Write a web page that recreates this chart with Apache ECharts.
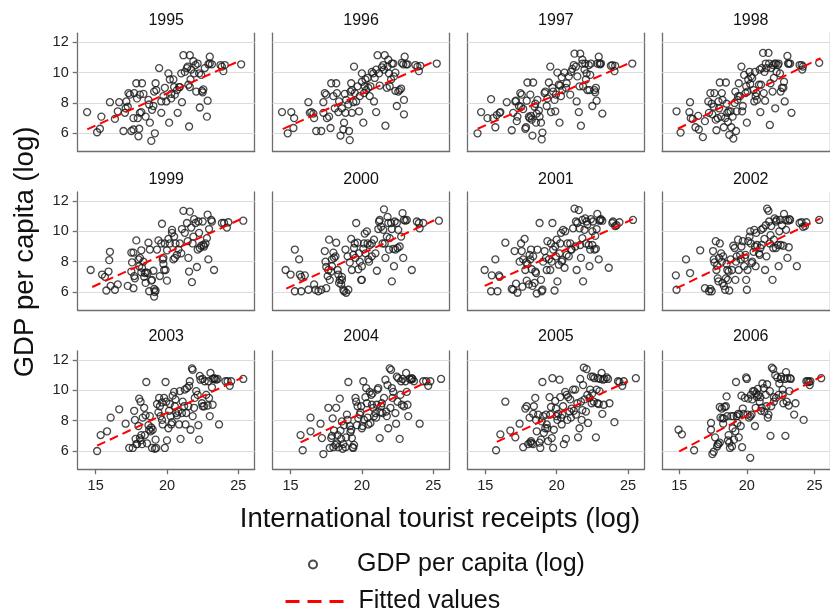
<!DOCTYPE html>
<html><head><meta charset="utf-8">
<script src="https://cdn.jsdelivr.net/npm/echarts@6/dist/echarts.min.js"></script>
<style>html,body{margin:0;padding:0;background:#fff}#c{width:830px;height:609px}</style>
</head><body><div id="c"></div>
<script>
const years = ['1995','1996','1997','1998','1999','2000','2001','2002','2003','2004','2005','2006'];
const xTicks = [15, 20, 25];
const yTicks = [6, 8, 10, 12];

const pts1995 = [[14.4,7.4],[15.1,6.07],[15.3,6.3],[15.4,7.1],[16.0,8.05],[16.35,6.95],[16.55,7.45],[16.65,8.05],[16.95,6.15],[17.1,7.65],[17.15,8.1],[17.05,7.35],[17.25,7.75],[17.3,8.65],[17.4,8.55],[17.5,6.15],[17.65,6.25],[17.65,7.0],[17.7,8.65],[17.85,9.3],[17.9,8.3],[17.95,7.0],[18.0,5.8],[18.05,6.3],[18.1,8.55],[18.1,7.35],[18.2,7.4],[18.25,9.3],[18.35,8.6],[18.5,7.1],[18.7,8.2],[18.75,7.9],[18.8,6.7],[18.9,5.5],[18.95,7.55],[19.05,7.8],[19.1,8.75],[19.15,6.0],[19.2,9.3],[19.25,8.85],[19.45,10.3],[19.6,7.35],[19.6,8.1],[19.75,8.45],[19.85,9.0],[19.95,8.1],[20.1,9.95],[20.15,6.7],[20.2,9.55],[20.3,8.3],[20.3,8.6],[20.45,9.55],[20.5,9.05],[20.55,8.55],[20.7,8.85],[20.75,7.35],[20.85,9.05],[20.9,9.05],[21.0,9.95],[21.05,8.05],[21.15,11.15],[21.25,10.05],[21.4,10.3],[21.45,10.4],[21.5,9.2],[21.55,6.45],[21.6,9.05],[21.6,11.15],[21.65,9.55],[21.7,10.2],[21.85,10.75],[21.9,9.95],[22.0,10.5],[22.05,8.75],[22.15,10.6],[22.25,9.95],[22.3,7.7],[22.4,9.85],[22.45,8.8],[22.5,8.7],[22.55,8.9],[22.65,10.3],[22.8,7.1],[22.85,8.15],[22.9,10.55],[23.0,11.05],[23.0,10.6],[23.15,10.55],[23.75,10.5],[23.85,10.4],[23.95,10.1],[24.05,10.5],[25.2,10.55]];
const pts1996 = [[14.4,7.4],[15.05,7.4],[15.25,7.0],[15.2,6.35],[14.8,6.0],[16.25,8.05],[16.35,7.35],[16.45,7.4],[16.6,7.3],[16.65,7.0],[16.8,6.15],[17.15,6.15],[17.3,7.35],[17.3,8.05],[17.4,8.65],[17.5,8.55],[17.55,7.0],[17.7,7.1],[17.8,6.35],[17.85,9.3],[18.0,8.45],[18.1,7.65],[18.2,9.3],[18.25,8.65],[18.35,7.4],[18.4,8.1],[18.5,5.85],[18.6,7.65],[18.7,6.25],[18.75,6.7],[18.8,8.6],[18.85,7.35],[18.9,8.2],[19.05,7.9],[19.1,6.15],[19.15,5.55],[19.2,8.75],[19.25,9.3],[19.3,8.85],[19.3,7.35],[19.4,8.05],[19.45,10.4],[19.5,8.65],[19.6,8.1],[19.7,9.1],[19.8,7.45],[19.85,8.45],[20.0,9.4],[20.0,9.95],[20.1,6.7],[20.15,8.65],[20.2,9.1],[20.25,9.55],[20.3,8.85],[20.4,9.65],[20.45,9.0],[20.55,8.45],[20.6,9.1],[20.7,10.05],[20.8,9.95],[20.85,8.1],[20.9,9.65],[21.0,7.4],[21.0,10.2],[21.1,11.15],[21.2,9.95],[21.25,9.15],[21.4,10.35],[21.5,10.5],[21.55,10.2],[21.6,11.15],[21.65,6.5],[21.75,9.0],[21.8,10.4],[21.85,10.85],[21.9,9.95],[21.95,9.1],[22.05,9.55],[22.1,10.6],[22.2,10.6],[22.25,9.75],[22.35,8.8],[22.35,10.0],[22.45,7.8],[22.55,8.75],[22.65,8.85],[22.75,8.95],[22.8,10.65],[22.9,10.55],[22.95,8.2],[22.95,7.25],[23.0,11.05],[23.1,10.55],[23.2,10.55],[23.75,10.5],[23.9,10.4],[24.0,10.1],[24.1,10.45],[25.25,10.6]];
const pts1997 = [[14.45,6.0],[14.7,7.4],[15.15,7.0],[15.55,7.0],[15.7,6.4],[15.8,7.2],[16.0,7.35],[16.05,7.4],[15.4,8.25],[16.5,8.05],[16.85,6.2],[16.95,7.35],[17.1,8.1],[17.15,8.15],[17.2,6.8],[17.25,7.1],[17.35,7.8],[17.45,8.65],[17.5,7.75],[17.55,8.55],[17.65,7.6],[17.8,6.3],[17.85,6.4],[17.9,8.15],[17.95,9.35],[18.05,7.1],[18.1,7.0],[18.15,8.55],[18.2,7.15],[18.25,6.9],[18.3,5.85],[18.35,9.35],[18.45,7.75],[18.5,7.95],[18.55,6.7],[18.6,7.3],[18.65,8.2],[18.75,7.5],[18.8,7.1],[18.9,6.7],[18.95,5.6],[19.0,6.05],[19.15,8.65],[19.2,8.75],[19.3,7.8],[19.35,8.3],[19.45,9.35],[19.55,10.4],[19.6,7.4],[19.7,9.0],[19.75,8.75],[19.85,8.2],[19.9,7.45],[19.95,8.55],[20.05,10.0],[20.15,9.2],[20.2,6.7],[20.25,9.15],[20.3,8.45],[20.35,9.7],[20.4,8.85],[20.55,10.0],[20.65,9.0],[20.7,9.3],[20.85,9.75],[20.95,8.55],[21.0,10.05],[21.1,10.25],[21.2,10.5],[21.25,11.25],[21.35,10.4],[21.4,8.1],[21.45,9.75],[21.55,7.4],[21.6,9.1],[21.65,11.25],[21.7,6.5],[21.8,10.6],[21.8,10.85],[21.85,9.1],[21.95,10.2],[22.0,10.6],[22.05,9.55],[22.1,9.95],[22.15,8.85],[22.25,10.5],[22.3,8.85],[22.35,9.85],[22.4,10.6],[22.5,7.8],[22.65,8.85],[22.7,8.7],[22.75,9.0],[22.8,8.15],[22.85,10.6],[22.95,11.05],[23.0,10.6],[23.05,10.55],[23.1,10.6],[23.2,7.3],[23.8,10.45],[23.9,10.5],[24.05,10.1],[24.1,10.45],[25.3,10.6]];
const pts1998 = [[14.8,7.45],[15.1,6.05],[15.75,7.4],[15.8,8.05],[15.85,7.0],[16.0,6.95],[16.2,6.4],[16.4,7.15],[16.45,6.25],[16.75,5.75],[16.9,6.8],[17.15,8.1],[17.2,7.35],[17.3,8.65],[17.4,7.95],[17.45,7.25],[17.55,7.75],[17.6,8.65],[17.7,6.9],[17.75,6.2],[17.85,7.0],[17.9,8.1],[17.95,7.65],[18.0,9.35],[18.1,7.1],[18.15,8.65],[18.2,8.2],[18.3,6.4],[18.4,7.0],[18.45,9.35],[18.5,7.95],[18.55,7.35],[18.6,6.75],[18.65,7.45],[18.7,5.9],[18.8,7.45],[18.85,6.4],[18.95,7.1],[19.0,5.65],[19.1,8.0],[19.15,8.75],[19.2,6.15],[19.25,7.45],[19.3,8.2],[19.35,8.45],[19.4,9.3],[19.5,8.45],[19.6,10.4],[19.65,7.45],[19.7,7.8],[19.8,9.85],[19.9,8.65],[19.95,9.1],[20.0,6.7],[20.05,8.75],[20.1,9.55],[20.2,10.05],[20.25,9.25],[20.3,9.75],[20.4,9.65],[20.5,8.85],[20.55,8.1],[20.6,10.05],[20.65,8.45],[20.7,8.65],[20.75,8.2],[20.9,9.2],[20.95,10.2],[21.0,7.4],[21.05,9.2],[21.1,10.3],[21.2,11.3],[21.25,8.65],[21.3,10.05],[21.35,8.15],[21.4,10.6],[21.45,10.3],[21.6,11.3],[21.65,10.6],[21.7,6.55],[21.75,9.3],[21.8,10.3],[21.9,8.75],[21.95,10.5],[22.0,9.65],[22.05,10.6],[22.1,7.65],[22.15,10.6],[22.2,10.05],[22.3,10.5],[22.35,10.6],[22.45,9.95],[22.5,8.75],[22.6,9.0],[22.7,9.0],[22.75,9.4],[22.8,8.1],[23.0,11.1],[23.05,10.6],[23.1,10.6],[23.2,10.6],[23.3,7.35],[23.9,10.5],[24.05,10.5],[24.1,10.2],[24.15,10.4],[25.35,10.65]];
const pts1999 = [[14.65,7.45],[15.45,7.15],[15.65,7.0],[15.75,6.1],[15.9,7.35],[15.95,8.1],[16.0,8.65],[16.05,6.4],[16.35,6.15],[16.55,6.5],[17.25,6.4],[17.5,8.6],[17.5,7.35],[17.55,7.95],[17.65,6.25],[17.65,8.6],[17.7,7.05],[17.75,6.9],[17.85,9.4],[18.0,8.15],[18.05,7.7],[18.1,8.25],[18.2,8.75],[18.2,7.3],[18.25,7.6],[18.35,8.0],[18.4,7.0],[18.45,7.25],[18.5,6.6],[18.55,7.3],[18.65,7.25],[18.7,9.25],[18.75,6.05],[18.8,8.8],[18.9,6.75],[18.95,6.8],[19.05,7.4],[19.1,6.2],[19.15,6.0],[19.1,5.7],[19.2,6.1],[19.3,8.8],[19.4,9.4],[19.5,7.05],[19.6,9.2],[19.65,10.5],[19.7,8.15],[19.75,7.85],[19.75,8.25],[19.8,7.45],[19.85,9.2],[19.9,7.45],[20.0,6.75],[20.0,8.75],[20.1,9.5],[20.2,9.2],[20.35,10.1],[20.35,9.9],[20.45,8.15],[20.5,9.65],[20.55,8.25],[20.6,9.2],[20.7,8.45],[20.8,8.8],[20.9,9.2],[21.0,8.55],[21.05,10.15],[21.15,11.35],[21.25,9.9],[21.4,10.55],[21.45,9.35],[21.5,8.25],[21.55,7.35],[21.6,11.3],[21.7,10.25],[21.75,6.65],[21.8,9.2],[21.85,9.65],[21.9,10.8],[22.0,10.55],[22.1,7.65],[22.15,8.8],[22.2,10.65],[22.25,9.9],[22.3,8.9],[22.4,9.05],[22.5,10.65],[22.55,9.1],[22.6,9.0],[22.7,9.2],[22.8,9.55],[22.85,11.1],[22.9,8.15],[22.95,10.15],[23.1,10.75],[23.15,10.65],[23.3,7.45],[23.85,10.55],[24.0,10.55],[24.2,10.25],[24.3,10.6],[25.35,10.7]];
const pts2000 = [[14.65,7.45],[15.0,7.15],[15.3,8.8],[15.6,8.15],[15.65,7.15],[15.75,7.0],[16.0,7.1],[15.3,6.05],[15.75,6.05],[16.25,6.15],[16.65,6.5],[16.75,6.15],[16.95,6.05],[17.15,6.15],[17.4,8.7],[17.45,8.0],[17.5,7.65],[17.5,6.25],[17.6,7.05],[17.65,7.45],[17.7,9.45],[17.75,6.8],[17.85,7.35],[17.9,8.15],[17.9,7.7],[18.0,8.6],[18.05,8.25],[18.15,8.35],[18.2,9.25],[18.3,7.45],[18.35,7.15],[18.4,6.6],[18.45,6.8],[18.55,6.5],[18.6,7.0],[18.6,6.8],[18.7,6.15],[18.75,6.05],[18.85,8.8],[18.9,5.95],[19.0,8.35],[19.05,6.15],[19.15,7.95],[19.25,9.5],[19.3,7.45],[19.4,8.45],[19.45,8.9],[19.5,9.2],[19.55,8.25],[19.6,10.55],[19.7,9.25],[19.75,7.5],[19.8,8.55],[19.85,8.0],[19.95,6.8],[20.0,7.7],[20.0,6.8],[20.1,8.85],[20.15,9.2],[20.2,9.85],[20.25,8.55],[20.35,10.0],[20.4,9.2],[20.45,8.15],[20.5,8.0],[20.55,9.1],[20.7,8.35],[20.7,9.2],[20.85,9.45],[20.95,8.55],[21.05,7.4],[21.15,10.15],[21.2,10.65],[21.25,10.75],[21.35,10.3],[21.45,9.2],[21.5,10.1],[21.55,11.45],[21.6,9.2],[21.65,8.25],[21.75,9.65],[21.8,10.95],[21.85,10.55],[21.9,8.8],[21.95,9.55],[22.05,10.55],[22.1,6.7],[22.1,10.15],[22.2,8.85],[22.25,7.7],[22.3,10.65],[22.35,8.8],[22.45,10.55],[22.5,8.9],[22.55,10.1],[22.65,9.0],[22.75,9.65],[22.85,11.2],[22.9,8.25],[22.95,10.75],[23.05,10.7],[23.15,10.75],[23.5,7.45],[23.85,10.65],[24.0,10.55],[24.05,10.2],[24.3,10.55],[25.4,10.7]];
const pts2001 = [[14.95,7.45],[15.4,6.05],[15.45,7.1],[15.7,8.15],[15.85,6.05],[15.95,7.1],[16.0,7.0],[16.4,9.25],[16.85,6.2],[16.95,6.15],[17.05,8.7],[17.15,6.55],[17.25,5.95],[17.4,8.0],[17.5,9.2],[17.55,8.7],[17.6,6.35],[17.65,8.15],[17.75,9.5],[17.8,7.45],[17.85,7.95],[17.9,6.75],[17.95,7.85],[18.05,6.5],[18.1,8.45],[18.15,8.15],[18.2,8.8],[18.25,7.5],[18.3,6.4],[18.35,8.35],[18.45,6.6],[18.5,7.35],[18.55,7.25],[18.6,5.9],[18.65,8.8],[18.8,10.55],[18.9,6.8],[18.95,6.05],[19.0,6.15],[19.05,8.0],[19.15,8.7],[19.25,8.25],[19.3,7.45],[19.35,9.35],[19.45,8.15],[19.55,7.45],[19.6,9.2],[19.65,8.0],[19.7,10.55],[19.75,8.8],[19.85,6.1],[19.9,9.0],[19.95,8.35],[20.0,9.45],[20.05,6.7],[20.15,7.8],[20.2,8.55],[20.25,9.2],[20.3,9.9],[20.35,8.0],[20.4,8.1],[20.45,10.1],[20.55,7.6],[20.6,10.0],[20.7,8.45],[20.75,9.2],[20.85,8.35],[20.95,9.2],[21.0,8.8],[21.05,8.8],[21.15,10.2],[21.25,11.5],[21.3,9.0],[21.35,10.65],[21.4,7.45],[21.45,10.55],[21.55,11.4],[21.6,10.2],[21.65,9.1],[21.7,8.25],[21.8,9.55],[21.8,10.75],[21.85,6.7],[21.95,10.1],[22.0,10.85],[22.05,9.2],[22.1,10.65],[22.15,10.45],[22.25,9.1],[22.3,7.7],[22.35,8.8],[22.4,10.8],[22.5,9.1],[22.5,10.0],[22.55,10.65],[22.65,8.8],[22.7,9.7],[22.75,8.85],[22.8,10.15],[22.85,11.15],[22.95,8.15],[23.0,10.7],[23.05,10.75],[23.1,10.8],[23.2,10.7],[23.65,7.6],[23.9,10.55],[23.95,10.65],[24.1,10.35],[24.2,10.4],[24.4,10.6],[25.35,10.75]];
const pts2002 = [[14.75,7.1],[14.8,6.15],[15.5,8.15],[15.8,7.25],[16.55,8.75],[16.9,6.25],[17.2,6.05],[17.3,6.2],[17.4,6.05],[17.5,8.7],[17.55,8.15],[17.6,7.95],[17.7,9.35],[17.75,7.45],[17.8,7.75],[17.85,6.9],[17.9,6.7],[17.95,8.25],[18.0,9.2],[18.1,8.55],[18.15,8.0],[18.2,6.6],[18.25,8.35],[18.3,6.4],[18.4,6.15],[18.45,6.9],[18.5,7.85],[18.55,7.45],[18.6,6.8],[18.65,7.35],[18.7,6.1],[18.8,8.15],[18.9,7.45],[19.0,9.05],[19.1,8.9],[19.15,6.8],[19.2,8.0],[19.25,8.35],[19.35,9.45],[19.4,7.45],[19.5,8.45],[19.55,8.15],[19.6,9.0],[19.7,9.35],[19.8,7.7],[19.85,8.25],[19.9,8.45],[19.95,6.8],[20.0,6.15],[20.05,7.45],[20.1,9.35],[20.2,9.65],[20.25,10.0],[20.3,9.2],[20.35,7.9],[20.4,8.0],[20.5,8.65],[20.55,10.1],[20.6,9.0],[20.65,7.7],[20.7,9.9],[20.75,9.1],[20.9,8.55],[20.95,8.45],[21.0,8.9],[21.05,10.1],[21.1,9.1],[21.2,10.2],[21.3,9.5],[21.35,7.45],[21.4,10.4],[21.45,8.35],[21.5,11.5],[21.6,11.35],[21.65,10.65],[21.7,9.2],[21.75,9.75],[21.8,10.35],[21.9,6.8],[21.95,8.9],[22.0,9.45],[22.05,10.85],[22.15,8.9],[22.15,10.65],[22.2,10.75],[22.3,9.1],[22.35,7.7],[22.4,10.0],[22.45,10.75],[22.5,9.1],[22.6,10.4],[22.7,9.05],[22.75,11.15],[22.85,10.75],[22.9,10.1],[23.0,8.25],[23.05,10.7],[23.1,8.95],[23.15,10.8],[23.2,10.75],[23.7,7.7],[23.9,10.55],[24.05,10.6],[24.15,10.3],[24.3,10.35],[24.4,10.6],[25.35,10.75]];
const pts2003 = [[15.1,6.0],[15.35,7.05],[15.8,7.3],[16.05,8.2],[16.65,8.75],[17.1,7.8],[17.35,6.2],[17.6,6.2],[17.7,8.65],[17.75,8.05],[17.8,6.8],[17.85,6.45],[17.9,6.45],[18.0,7.65],[18.05,9.45],[18.1,6.85],[18.15,9.25],[18.15,6.7],[18.2,7.05],[18.25,6.45],[18.3,8.2],[18.4,8.85],[18.45,7.05],[18.5,8.35],[18.55,10.55],[18.6,6.5],[18.7,7.7],[18.75,7.4],[18.8,8.3],[18.85,7.3],[18.9,7.55],[18.95,6.2],[19.0,7.4],[19.15,6.15],[19.2,6.75],[19.25,6.2],[19.3,9.1],[19.4,8.55],[19.45,9.5],[19.5,8.95],[19.55,8.3],[19.65,9.2],[19.65,8.05],[19.7,7.75],[19.8,9.5],[19.85,6.2],[19.9,10.55],[19.95,9.25],[20.0,6.7],[20.1,7.5],[20.15,8.65],[20.2,9.1],[20.25,8.3],[20.3,7.75],[20.35,7.9],[20.4,9.65],[20.5,9.9],[20.55,8.95],[20.6,9.4],[20.65,8.5],[20.7,8.35],[20.8,8.6],[20.85,7.75],[20.9,9.95],[20.95,6.8],[21.05,8.5],[21.1,9.25],[21.2,8.95],[21.25,10.05],[21.3,7.75],[21.35,8.5],[21.4,10.15],[21.5,8.95],[21.55,10.3],[21.6,10.6],[21.65,7.4],[21.75,11.45],[21.8,11.35],[21.8,8.3],[21.9,8.85],[21.95,9.5],[22.05,9.95],[22.15,9.7],[22.2,7.7],[22.25,6.75],[22.3,10.95],[22.35,10.7],[22.45,9.15],[22.5,8.95],[22.5,10.75],[22.6,8.95],[22.65,10.6],[22.75,9.7],[22.85,9.0],[22.9,10.6],[22.95,9.5],[23.0,8.3],[23.05,11.15],[23.15,10.2],[23.2,9.05],[23.2,10.75],[23.3,10.8],[23.35,10.75],[23.45,10.7],[23.55,10.75],[23.65,7.75],[24.1,10.6],[24.25,10.6],[24.4,10.3],[24.5,10.6],[25.35,10.75]];
const pts2004 = [[15.7,7.05],[15.85,6.05],[16.4,7.3],[16.4,8.2],[17.1,7.8],[17.3,5.8],[17.2,6.85],[17.65,8.85],[17.75,6.2],[17.85,6.85],[17.9,7.0],[17.95,8.15],[18.0,6.25],[18.05,7.35],[18.15,6.4],[18.2,8.85],[18.25,6.5],[18.3,7.05],[18.35,6.25],[18.45,9.45],[18.5,7.35],[18.55,6.8],[18.6,7.95],[18.65,6.15],[18.7,6.45],[18.75,7.7],[18.85,6.25],[18.9,6.9],[18.95,8.4],[19.0,8.05],[19.05,10.55],[19.15,7.65],[19.2,7.25],[19.25,7.4],[19.3,6.85],[19.35,6.25],[19.4,6.2],[19.45,6.4],[19.55,9.5],[19.6,9.25],[19.65,7.7],[19.7,8.95],[19.75,8.15],[19.85,8.4],[19.9,8.55],[19.95,8.95],[20.0,7.5],[20.05,7.65],[20.1,10.6],[20.15,8.05],[20.25,9.55],[20.3,10.15],[20.35,9.15],[20.4,8.2],[20.45,7.75],[20.55,9.9],[20.6,7.85],[20.65,9.7],[20.7,9.05],[20.75,9.8],[20.8,8.85],[20.85,8.3],[20.95,8.5],[21.0,8.2],[21.05,9.05],[21.1,10.05],[21.15,10.15],[21.25,6.85],[21.3,8.55],[21.35,8.95],[21.4,9.15],[21.45,8.5],[21.55,9.5],[21.65,10.7],[21.7,8.6],[21.75,8.3],[21.8,10.35],[21.85,7.5],[21.95,11.45],[22.0,8.85],[22.05,11.35],[22.1,10.15],[22.15,9.5],[22.2,9.9],[22.35,8.5],[22.4,7.8],[22.45,10.9],[22.5,9.25],[22.55,10.8],[22.65,6.8],[22.7,9.7],[22.75,10.6],[22.8,9.05],[22.85,10.75],[22.95,8.95],[23.05,10.6],[23.1,11.15],[23.15,9.9],[23.2,9.05],[23.25,8.3],[23.35,10.75],[23.45,10.7],[23.5,10.8],[23.55,10.75],[23.65,10.6],[24.05,7.8],[24.3,10.6],[24.5,10.6],[24.65,10.3],[24.8,10.6],[25.55,10.75]];
const pts2005 = [[15.75,6.05],[16.05,7.1],[16.4,9.25],[16.75,7.35],[17.1,6.9],[17.4,7.8],[17.65,6.25],[17.8,8.8],[17.9,8.95],[18.0,6.45],[18.1,8.2],[18.15,6.55],[18.2,6.65],[18.25,6.5],[18.35,6.45],[18.35,8.45],[18.4,8.95],[18.5,9.5],[18.55,8.05],[18.6,7.3],[18.7,8.4],[18.8,6.55],[18.85,6.2],[18.9,6.75],[18.95,7.95],[19.0,10.55],[19.05,8.3],[19.1,7.2],[19.2,7.5],[19.25,8.4],[19.3,7.75],[19.35,7.5],[19.4,6.65],[19.5,9.55],[19.55,8.4],[19.6,8.9],[19.65,6.85],[19.7,10.8],[19.75,6.2],[19.8,7.4],[19.9,9.3],[19.95,8.8],[20.0,8.3],[20.05,8.05],[20.1,8.45],[20.2,10.7],[20.25,9.55],[20.3,8.2],[20.35,7.75],[20.4,8.4],[20.45,8.95],[20.5,6.45],[20.6,9.9],[20.65,6.8],[20.7,9.7],[20.75,8.05],[20.8,9.55],[20.9,8.6],[20.95,9.4],[21.0,8.2],[21.05,8.8],[21.15,10.05],[21.2,8.65],[21.3,10.05],[21.35,8.4],[21.45,9.15],[21.5,6.9],[21.6,7.5],[21.65,10.75],[21.7,9.25],[21.75,8.05],[21.8,8.7],[21.85,10.35],[21.9,11.5],[21.95,9.4],[22.05,8.6],[22.1,11.4],[22.15,9.7],[22.2,7.85],[22.3,9.5],[22.35,10.05],[22.4,10.9],[22.45,9.15],[22.5,9.8],[22.55,10.9],[22.6,9.25],[22.65,10.8],[22.75,6.9],[22.8,10.05],[22.85,9.15],[22.9,10.8],[22.95,9.1],[23.0,9.95],[23.05,10.75],[23.15,11.15],[23.2,8.45],[23.25,10.7],[23.3,9.05],[23.35,10.75],[23.5,10.85],[23.6,10.75],[23.7,9.15],[24.05,7.9],[24.3,10.6],[24.4,10.55],[24.6,10.3],[24.7,10.6],[25.55,10.8]];
const pts2006 = [[14.95,7.4],[15.2,7.1],[16.1,6.05],[17.35,7.85],[17.35,7.4],[17.45,5.8],[17.55,5.95],[17.65,6.9],[17.8,6.3],[17.85,6.45],[17.9,6.45],[18.0,6.55],[18.0,8.9],[18.05,8.2],[18.15,8.8],[18.2,8.15],[18.25,7.8],[18.3,8.15],[18.35,8.9],[18.45,8.95],[18.5,9.6],[18.55,8.3],[18.6,6.7],[18.65,7.05],[18.7,6.55],[18.75,6.2],[18.85,8.3],[18.9,6.3],[18.95,7.5],[19.0,8.3],[19.05,6.75],[19.15,7.3],[19.2,10.55],[19.25,8.3],[19.3,7.85],[19.35,8.45],[19.4,6.9],[19.45,8.4],[19.55,7.65],[19.6,9.65],[19.65,6.25],[19.7,8.8],[19.75,8.45],[19.85,9.5],[19.95,10.85],[20.0,10.75],[20.05,8.4],[20.1,9.45],[20.15,8.2],[20.25,5.55],[20.25,8.3],[20.3,9.7],[20.35,8.4],[20.4,9.4],[20.45,9.95],[20.55,9.95],[20.6,7.65],[20.65,8.85],[20.7,9.8],[20.75,9.55],[20.8,10.1],[20.85,9.7],[20.95,9.25],[21.0,9.55],[21.05,8.65],[21.1,8.85],[21.15,10.45],[21.25,10.15],[21.3,8.6],[21.4,9.7],[21.45,8.95],[21.5,10.4],[21.55,8.2],[21.6,8.4],[21.7,9.95],[21.75,7.0],[21.8,8.95],[21.85,11.5],[21.95,11.4],[22.0,9.25],[22.0,9.55],[22.1,11.0],[22.15,9.5],[22.25,10.85],[22.35,9.7],[22.4,10.45],[22.5,10.75],[22.55,10.9],[22.65,9.7],[22.65,10.05],[22.7,9.15],[22.8,10.75],[22.85,7.0],[22.9,11.2],[22.95,9.25],[23.0,10.8],[23.1,9.0],[23.15,9.95],[23.2,10.8],[23.25,10.75],[23.5,8.4],[23.6,9.15],[24.2,8.05],[24.4,10.6],[24.5,10.6],[24.6,10.55],[24.65,10.35],[24.7,10.6],[25.5,10.8]];

const fit1995 = [[14.41,6.26],[25.07,10.77]];
const fit1996 = [[14.45,6.28],[25.1,10.75]];
const fit1997 = [[14.46,6.3],[25.2,10.67]];
const fit1998 = [[14.9,6.3],[25.45,10.95]];
const fit1999 = [[14.76,6.33],[25.35,10.88]];
const fit2000 = [[14.7,6.22],[25.35,10.85]];
const fit2001 = [[14.95,6.4],[25.35,10.8]];
const fit2002 = [[14.8,6.25],[25.45,10.85]];
const fit2003 = [[15.1,6.35],[25.3,10.85]];
const fit2004 = [[15.7,6.57],[24.8,10.66]];
const fit2005 = [[15.8,6.6],[25.0,10.6]];
const fit2006 = [[15.0,5.97],[25.6,10.95]];

const ptsByYear = [pts1995,pts1996,pts1997,pts1998,pts1999,pts2000,pts2001,pts2002,pts2003,pts2004,pts2005,pts2006];
const fitByYear = [fit1995,fit1996,fit1997,fit1998,fit1999,fit2000,fit2001,fit2002,fit2003,fit2004,fit2005,fit2006];

const FONT = '"Liberation Sans", Arial, Helvetica, sans-serif';
const colLeft = [77.7, 272.6, 467.4, 662.2];
const rowTop = [33.2, 191.9, 350.9];
const titleY = [21, 180, 337];
const W = 177, H = 118.3;
const frame = {color: '#6e6e6e', width: 1.3};
const RED = '#ff0000';

const grids = [], xAxes = [], yAxes = [], series = [], graphics = [];
years.forEach((yr, i) => {
  const r = Math.floor(i / 4), c = i % 4;
  const isBottom = r === 2, isLeft = c === 0;
  grids.push({left: colLeft[c], top: rowTop[r], width: W, height: H});
  xAxes.push({type: 'value', gridIndex: i, min: 13.74, max: 26.15,
    axisLine: {show: true, onZero: false, lineStyle: frame},
    axisTick: {show: isBottom, length: 5, customValues: xTicks, lineStyle: frame},
    axisLabel: {show: isBottom, customValues: xTicks, margin: 9, fontSize: 14.5, color: '#222', fontFamily: FONT},
    splitLine: {show: false}});
  yAxes.push({type: 'value', gridIndex: i, min: 4.8, max: 12.6, position: 'left',
    axisLine: {show: true, onZero: false, lineStyle: frame},
    axisTick: {show: isLeft, length: 5, customValues: yTicks, lineStyle: frame},
    axisLabel: {show: isLeft, customValues: yTicks, margin: 9, fontSize: 14.5, color: '#222', fontFamily: FONT},
    splitLine: {show: false}});
  yAxes.push({type: 'value', gridIndex: i, min: 4.8, max: 12.6, position: 'right',
    axisLine: {show: true, onZero: false, lineStyle: frame},
    axisTick: {show: false}, axisLabel: {show: false}, splitLine: {show: false}});
  series.push({type: 'line', name: 'gridlines', xAxisIndex: i, yAxisIndex: 2 * i, data: [], silent: true, z: 1,
    markLine: {silent: true, z: 1, symbol: ['none', 'none'], label: {show: false},
      lineStyle: {color: '#dcdcdc', type: 'solid', width: 1}, emphasis: {disabled: true},
      data: yTicks.map(v => ({yAxis: v}))}});
  series.push({type: 'scatter', name: 'GDP per capita (log)', xAxisIndex: i, yAxisIndex: 2 * i,
    data: ptsByYear[i], symbol: 'circle', symbolSize: 7, z: 2,
    itemStyle: {color: 'rgba(255,255,255,0)', borderColor: '#1a1a1a', borderWidth: 1.3}});
  series.push({type: 'line', name: 'Fitted values', xAxisIndex: i, yAxisIndex: 2 * i,
    data: fitByYear[i], symbol: 'none', z: 3, itemStyle: {color: RED},
    lineStyle: {color: RED, width: 2, type: [9, 5]}});
  graphics.push({type: 'text', x: colLeft[c] + W / 2, y: titleY[r],
    style: {text: yr, font: '16px ' + FONT, fill: '#111', textAlign: 'center', textVerticalAlign: 'middle'}});
});
graphics.push({type: 'text', x: 25, y: 252, rotation: Math.PI / 2,
  style: {text: 'GDP per capita (log)', font: '27.5px ' + FONT, fill: '#111', textAlign: 'center', textVerticalAlign: 'middle'}});
graphics.push({type: 'text', x: 440, y: 519,
  style: {text: 'International tourist receipts (log)', font: '27.5px ' + FONT, fill: '#111', textAlign: 'center', textVerticalAlign: 'middle'}});

const legendText = {fontSize: 25, color: '#111', fontFamily: FONT, padding: [0, 0, 0, 10]};
const chart = echarts.init(document.getElementById('c'), null, {renderer: 'canvas'});
chart.setOption({
  animation: false,
  backgroundColor: '#fff',
  grid: grids, xAxis: xAxes, yAxis: yAxes, series: series, graphic: graphics,
  legend: [
    {orient: 'vertical', left: 303, top: 547, itemWidth: 58, itemHeight: 8, selectedMode: false,
      data: ['GDP per capita (log)'], textStyle: legendText},
    {orient: 'vertical', left: 279, top: 584, itemWidth: 58, itemHeight: 8, selectedMode: false,
      data: [{name: 'Fitted values', itemStyle: {opacity: 0}}],
      lineStyle: {color: RED, width: 3, type: [14, 8]}, textStyle: legendText}
  ]
});
</script></body></html>
